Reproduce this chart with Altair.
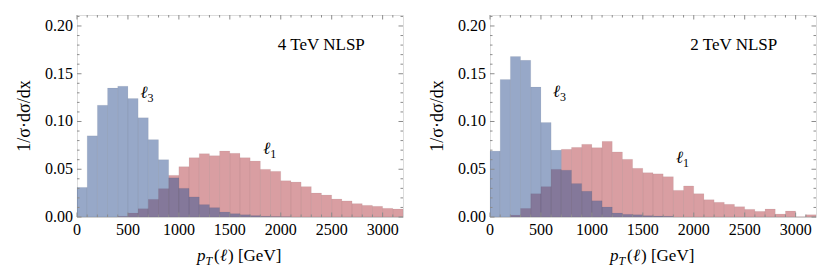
import altair as alt
import pandas as pd

# ---------------- data ----------------
bin_width = 100
bin_starts = list(range(0, 3200, 100))

ell3_4tev = [0.031, 0.085, 0.117, 0.135, 0.137, 0.124, 0.104, 0.081, 0.060, 0.041,
             0.030, 0.021, 0.013, 0.0098, 0.0052, 0.0035, 0.0024, 0.0015, 0.0008, 0.0005,
             0.0003, 0, 0, 0, 0, 0, 0, 0, 0, 0, 0, 0]
ell1_4tev = [0, 0, 0, 0, 0.0007, 0.0042, 0.0087, 0.0185, 0.0297, 0.0436,
             0.0527, 0.0621, 0.0663, 0.0642, 0.0691, 0.0667, 0.0621, 0.0586, 0.0499, 0.0478,
             0.0380, 0.0366, 0.0318, 0.0251, 0.0230, 0.0188, 0.0168, 0.0140, 0.0122, 0.0112,
             0.0091, 0.0084]
ell3_2tev = [0.069, 0.144, 0.168, 0.164, 0.136, 0.099, 0.070, 0.049, 0.035, 0.027,
             0.017, 0.0105, 0.0042, 0.0028, 0.0024, 0.0014, 0.0010, 0.0008, 0, 0,
             0, 0, 0, 0, 0, 0, 0, 0, 0, 0, 0, 0]
ell1_2tev = [0, 0, 0.002, 0.009, 0.0244, 0.0318, 0.0499, 0.0709, 0.0729, 0.0761,
             0.0726, 0.0792, 0.0681, 0.0604, 0.0510, 0.0464, 0.0452, 0.0422, 0.0279, 0.0325,
             0.0244, 0.0181, 0.0154, 0.0133, 0.0108, 0.0080, 0.0059, 0.0084, 0.0031, 0.0063,
             0.0003, 0.0024]

x_major = [0, 500, 1000, 1500, 2000, 2500, 3000]
x_tick_labels = ["0", "500", "1000", "1500", "2000", "2500", "3000"]
x_minor = [v for v in range(100, 3200, 100) if v % 500 != 0]
y_major = [0.0, 0.05, 0.10, 0.15, 0.20]
y_tick_labels = ["0.00", "0.05", "0.10", "0.15", "0.20"]
y_minor = [0.01, 0.02, 0.03, 0.04, 0.06, 0.07, 0.08, 0.09, 0.11, 0.12, 0.13, 0.14,
           0.16, 0.17, 0.18, 0.19, 0.21]

y_title = "1/σ·dσ/dx"
panel_labels = ["4 TeV NLSP", "2 TeV NLSP"]
# annotation anchors (data coords): [x, y]
label_pos = [[2398, 0.180], [2393, 0.180]]
l3_pos = [[693, 0.130], [688, 0.131]]
l1_pos = [[1897, 0.071], [1895, 0.062]]

# ---------------- style ----------------
W, H = 326, 202
XMAX, YMAX = 3200, 0.2115
FONT = "Liberation Serif"
BLUE = "#2f5191"
RED = "#b33d45"
FRAME = "#8c8c8c"
MAJ, MIN = 4.5, 2.5


def panel(ell3, ell1, label, lpos, p3, p1):
    xs = alt.Scale(domain=[0, XMAX], nice=False, zero=False)
    ys = alt.Scale(domain=[0, YMAX], nice=False, zero=False)
    # axes only reserve space; labels are drawn as text marks below
    xax = alt.Axis(values=x_major, title=None, labels=False, ticks=False, domain=False,
                   grid=False)
    yax = alt.Axis(values=y_major, title=None, labels=False, ticks=False, domain=False,
                   grid=False, minExtent=68, maxExtent=68)

    df = pd.DataFrame({"start": bin_starts,
                       "end": [s + bin_width for s in bin_starts],
                       "l3": ell3, "l1": ell1, "zero": 0.0})
    base = alt.Chart(df)
    red = base.mark_rect(fill=RED, fillOpacity=0.5, stroke="#444", strokeWidth=0.5,
                         strokeOpacity=0.1).encode(
        x=alt.X("start:Q", scale=xs, axis=xax), x2="end:Q",
        y=alt.Y("l1:Q", scale=ys, axis=yax), y2="zero:Q")
    blue = base.mark_rect(fill=BLUE, fillOpacity=0.5, stroke="#444", strokeWidth=0.5,
                          strokeOpacity=0.1).encode(
        x=alt.X("start:Q", scale=xs), x2="end:Q",
        y=alt.Y("l3:Q", scale=ys), y2="zero:Q")

    layers = [red, blue]

    def xticks(vals, length):
        d = alt.Chart(pd.DataFrame({"v": vals}))
        bot = d.mark_rule(color=FRAME, strokeWidth=1).encode(
            x=alt.X("v:Q", scale=xs), y=alt.value(H), y2=alt.value(H - length))
        top = d.mark_rule(color=FRAME, strokeWidth=1).encode(
            x=alt.X("v:Q", scale=xs), y=alt.value(0), y2=alt.value(length))
        return [bot, top]

    def yticks(vals, length):
        d = alt.Chart(pd.DataFrame({"v": vals}))
        lft = d.mark_rule(color=FRAME, strokeWidth=1).encode(
            y=alt.Y("v:Q", scale=ys), x=alt.value(0), x2=alt.value(length))
        rgt = d.mark_rule(color=FRAME, strokeWidth=1).encode(
            y=alt.Y("v:Q", scale=ys), x=alt.value(W), x2=alt.value(W - length))
        return [lft, rgt]

    layers += xticks(x_major, MAJ) + xticks(x_minor, MIN)
    layers += yticks(y_major, MAJ) + yticks(y_minor, MIN)

    # tick labels as text
    layers.append(alt.Chart(pd.DataFrame({"v": x_major, "t": x_tick_labels})).mark_text(
        font=FONT, fontSize=16, align="center", baseline="top", color="black").encode(
        x=alt.X("v:Q", scale=xs), y=alt.value(H + 5), text="t:N"))
    layers.append(alt.Chart(pd.DataFrame({"v": y_major, "t": y_tick_labels})).mark_text(
        font=FONT, fontSize=16, align="right", baseline="middle", color="black").encode(
        y=alt.Y("v:Q", scale=ys), x=alt.value(-4), text="t:N"))
    layers.append(alt.Chart(pd.DataFrame({"t": [y_title]})).mark_text(
        font=FONT, fontSize=18, align="center", baseline="middle", angle=270,
        color="black").encode(text="t:N", x=alt.value(-52), y=alt.value(H / 2)))

    def txt(x, y, t, size, align="center", dy=0, style="normal"):
        return alt.Chart(pd.DataFrame({"x": [x], "y": [y], "t": [t]})).mark_text(
            font=FONT, fontSize=size, align=align, baseline="middle", dy=dy,
            fontStyle=style, color="black").encode(
            x=alt.X("x:Q", scale=xs), y=alt.Y("y:Q", scale=ys),
            text="t:N")

    layers.append(txt(lpos[0], lpos[1], label, 17))
    layers.append(txt(p3[0], p3[1], "ℓ", 17, align="right", style="italic"))
    layers.append(txt(p3[0], p3[1], "3", 12, align="left", dy=5))
    layers.append(txt(p1[0], p1[1], "ℓ", 17, align="right", style="italic"))
    layers.append(txt(p1[0], p1[1], "1", 12, align="left", dy=5))

    # x-axis title  p_T(ℓ) [GeV]
    def ttl(t, xpx, ypx, size, style="normal"):
        return alt.Chart(pd.DataFrame({"t": [t]})).mark_text(
            font=FONT, fontSize=size, align="left", baseline="alphabetic",
            fontStyle=style, color="black").encode(
            text="t:N", x=alt.value(xpx), y=alt.value(ypx))

    layers.append(ttl("p", 120, H + 44, 17, "italic"))
    layers.append(ttl("T", 128.5, H + 48, 12, "italic"))
    layers.append(ttl("(", 137, H + 44, 17))
    layers.append(ttl("ℓ", 143, H + 44, 17, "italic"))
    layers.append(ttl(") [GeV]", 151, H + 44, 17))

    return alt.layer(*layers).properties(width=W, height=H)


left = panel(ell3_4tev, ell1_4tev, panel_labels[0], label_pos[0], l3_pos[0], l1_pos[0])
right = panel(ell3_2tev, ell1_2tev, panel_labels[1], label_pos[1], l3_pos[1], l1_pos[1])

chart = alt.hconcat(left, right, spacing=17).properties(
    padding={"left": 0, "top": 6, "right": 5, "bottom": 5}
).configure_view(stroke=FRAME, strokeWidth=1).configure_concat(
    spacing=17
).configure(font=FONT)

chart.save("out.html", embed_options={"renderer": "svg", "actions": False})
